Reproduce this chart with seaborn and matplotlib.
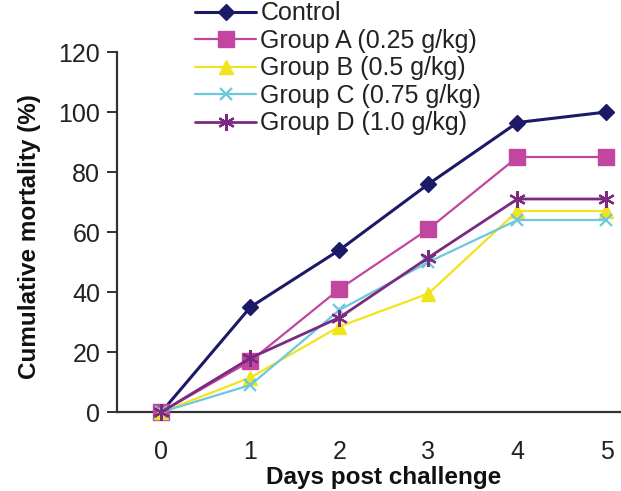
import matplotlib
matplotlib.use("Agg")
import matplotlib.pyplot as plt
import seaborn as sns
import pandas as pd

# Days after challenge and cumulative mortality (%) for each group
days = [0, 1, 2, 3, 4, 5]
control = [0, 35, 54, 76, 96.5, 100]
group_a = [0, 17, 41, 61, 85, 85]
group_b = [0, 11.5, 28.5, 39.5, 67, 67]
group_c = [0, 9, 34, 50, 64, 64]
group_d = [0, 18, 31.5, 51.5, 71, 71]

series_names = ["Control", "Group A (0.25 g/kg)", "Group B (0.5 g/kg)",
                "Group C (0.75 g/kg)", "Group D (1.0 g/kg)"]
series_values = [control, group_a, group_b, group_c, group_d]

df = pd.DataFrame({
    "day": days * len(series_names),
    "mortality": sum(series_values, []),
    "group": [n for n in series_names for _ in days],
})

sns.set_theme(style="white")
plt.rcParams["font.family"] = ["Liberation Sans", "DejaVu Sans"]

styles = {
    "Control": dict(color="#1c1a66", marker="D", ms=8, lw=2.2, mew=1),
    "Group A (0.25 g/kg)": dict(color="#c2459f", marker="s", ms=11, lw=1.6, mew=1),
    "Group B (0.5 g/kg)": dict(color="#f0e41c", marker="^", ms=10, lw=1.6, mew=1),
    "Group C (0.75 g/kg)": dict(color="#6cc8dc", marker="x", ms=9, lw=1.6, mew=1.6),
    "Group D (1.0 g/kg)": dict(color="#7a2a80", marker=(6, 2, 0), ms=12, lw=2.0, mew=1.6),
}

fig = plt.figure(figsize=(6.21, 4.91), dpi=100)
ax = fig.add_axes([117 / 621, 79 / 491, 504 / 621, 360 / 491])

for name in series_names:
    st = styles[name]
    sub = df[df["group"] == name]
    sns.lineplot(data=sub, x="day", y="mortality", ax=ax, label=name,
                 color=st["color"], linewidth=st["lw"], marker=st["marker"],
                 markersize=st["ms"], markeredgewidth=st["mew"],
                 markeredgecolor=st["color"], markerfacecolor=st["color"],
                 clip_on=False, zorder=3)

ax.set_xlim(-0.5, 5.163)
ax.set_ylim(0, 120)
ax.set_xticks(days)
ax.set_yticks([0, 20, 40, 60, 80, 100, 120])
ax.tick_params(axis="y", direction="out", length=7, width=1.4, color="#333333",
               pad=5, labelsize=18, left=True)
ax.tick_params(axis="x", length=0, pad=20, labelsize=18)
for lab in ax.get_xticklabels() + ax.get_yticklabels():
    lab.set_color("#222222")

for side in ["top", "right"]:
    ax.spines[side].set_visible(False)
for side in ["left", "bottom"]:
    ax.spines[side].set_color("#333333")
    ax.spines[side].set_linewidth(1.6)

ax.set_xlabel("Days post challenge", fontsize=17.5, fontweight="bold",
              color="#111111")
ax.xaxis.set_label_coords(0.53, -0.149)
ax.set_ylabel("Cumulative mortality (%)", fontsize=17.5, fontweight="bold",
              color="#111111")
ax.yaxis.set_label_coords(-0.15, 0.486)

leg = ax.legend(loc="upper left", bbox_to_anchor=(195 / 621, 0.997),
                bbox_transform=fig.transFigure, frameon=False, fontsize=18,
                handlelength=2.45, handletextpad=0.16, labelspacing=0.14,
                borderpad=0, borderaxespad=0)
for t in leg.get_texts():
    t.set_color("#222222")

fig.savefig("out.png", dpi=100)
